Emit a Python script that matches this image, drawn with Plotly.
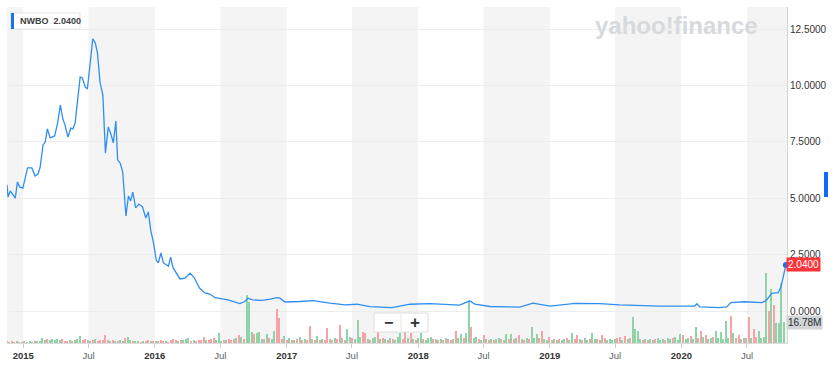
import plotly.graph_objects as go
import pandas as pd

# ---------------- data ----------------
price_dates = [
    "2014-11-17", "2014-11-20", "2014-11-26", "2014-12-10", "2014-12-16", "2014-12-22", "2014-12-31",
    "2015-01-13", "2015-01-25", "2015-02-03", "2015-02-11", "2015-02-17", "2015-02-25", "2015-03-03",
    "2015-03-09", "2015-03-17", "2015-03-29", "2015-04-06", "2015-04-14", "2015-04-21", "2015-04-27",
    "2015-05-05", "2015-05-13", "2015-05-19", "2015-05-25", "2015-05-31", "2015-06-08", "2015-06-14",
    "2015-06-22", "2015-06-28", "2015-07-06", "2015-07-13", "2015-07-20", "2015-07-26", "2015-08-02",
    "2015-08-10", "2015-08-17", "2015-08-25", "2015-09-02", "2015-09-08", "2015-09-15", "2015-09-20",
    "2015-09-27", "2015-10-04", "2015-10-13", "2015-10-20", "2015-10-26", "2015-11-01", "2015-11-09",
    "2015-11-18", "2015-11-28", "2015-12-07", "2015-12-14", "2015-12-21", "2015-12-28", "2016-01-05",
    "2016-01-11", "2016-01-18", "2016-01-25", "2016-02-08", "2016-02-14", "2016-02-21", "2016-03-11",
    "2016-03-25", "2016-04-08", "2016-04-20", "2016-05-04", "2016-05-19", "2016-06-02", "2016-06-16",
    "2016-07-22", "2016-08-24", "2016-09-07", "2016-09-15", "2016-09-29", "2016-10-24", "2016-11-16",
    "2016-12-05", "2016-12-13", "2016-12-27", "2017-02-07", "2017-03-15", "2017-05-01", "2017-06-12",
    "2017-07-15", "2017-08-20", "2017-10-20", "2017-12-09", "2018-02-02", "2018-03-15", "2018-04-26",
    "2018-05-24", "2018-06-07", "2018-07-19", "2018-10-10", "2018-11-15", "2019-01-02", "2019-03-12",
    "2019-05-20", "2019-07-14", "2019-11-02", "2020-02-07", "2020-02-13", "2020-02-21", "2020-04-16",
    "2020-05-06", "2020-05-17", "2020-06-25", "2020-08-11", "2020-08-22", "2020-08-31", "2020-09-08",
    "2020-09-16", "2020-09-25", "2020-10-03", "2020-10-10", "2020-10-17",
]
price_values = [
    5.59, 5.05, 5.32, 5.00, 5.72, 5.50, 5.45,
    6.34, 6.34, 5.98, 6.07, 6.38, 7.36, 7.49,
    8.07, 7.67, 7.76, 8.29, 9.13, 8.51, 8.24,
    7.71, 8.11, 8.07, 8.33, 9.26, 10.37, 10.33,
    9.93, 9.84, 10.99, 12.06, 11.88, 11.44, 10.15,
    9.57, 7.00, 8.16, 7.80, 7.45, 8.42, 6.69,
    6.56, 6.16, 4.21, 5.10, 4.88, 5.27, 4.57,
    4.74, 4.61, 4.12, 4.39, 3.55, 3.06, 2.26,
    2.13, 2.57, 2.13, 1.99, 2.39, 1.91, 1.42,
    1.46, 1.68, 1.46, 1.02, 0.80, 0.75, 0.59,
    0.49, 0.33, 0.42, 0.57, 0.49, 0.47, 0.53,
    0.59, 0.57, 0.40, 0.42, 0.46, 0.35, 0.27,
    0.30, 0.19, 0.15, 0.30, 0.33, 0.30, 0.26,
    0.45, 0.30, 0.20, 0.17, 0.35, 0.22, 0.34,
    0.33, 0.27, 0.22, 0.22, 0.32, 0.18, 0.15,
    0.18, 0.37, 0.41, 0.37, 0.45, 0.62, 0.78,
    0.80, 0.80, 1.05, 1.50, 2.04,
]

volume_week_start = "2014-11-17"
volume_millions = [
    1.6, 0.8, 1.6, 0.8, 1.6, 0.8, 0.8, 1.6, 0.8, 1.6,
    0.8, 1.6, 1.6, 1.6, 4.0, 2.4, 3.2, 2.4, 3.2, 2.4,
    3.2, 2.4, 3.2, 1.6, 1.6, 2.4, 1.6, 2.4, 3.2, 5.6,
    2.4, 3.2, 2.4, 1.6, 2.4, 3.2, 1.6, 2.4, 2.4, 6.4,
    2.4, 1.6, 2.4, 1.6, 1.6, 2.4, 1.6, 4.0, 4.8, 2.4,
    1.6, 1.6, 1.6, 0.8, 1.6, 1.6, 2.4, 1.6, 1.6, 1.6,
    1.6, 2.4, 1.6, 1.6, 0.8, 2.4, 3.2, 2.4, 1.6, 2.4,
    2.4, 3.2, 4.0, 1.6, 2.4, 1.6, 2.4, 2.4, 4.8, 2.4,
    2.4, 3.2, 4.0, 2.4, 8.0, 1.6, 2.4, 2.4, 3.2, 2.4,
    3.2, 4.0, 6.4, 4.8, 3.2, 38.4, 32.8, 8.8, 7.2, 8.0,
    8.8, 3.2, 3.2, 7.2, 4.0, 3.2, 9.6, 27.2, 20.0, 3.2,
    5.6, 2.4, 4.0, 2.4, 2.4, 3.2, 4.8, 2.4, 3.2, 2.4,
    13.6, 3.2, 2.4, 5.6, 2.4, 3.2, 2.4, 12.0, 3.2, 2.4,
    4.0, 3.2, 14.4, 4.0, 2.4, 11.2, 4.8, 4.0, 3.2, 18.4,
    4.8, 8.8, 8.0, 3.2, 2.4, 4.0, 4.8, 12.0, 3.2, 4.0,
    3.2, 2.4, 4.0, 3.2, 2.4, 4.8, 8.0, 3.2, 8.8, 4.0,
    8.0, 3.2, 2.4, 4.0, 8.0, 3.2, 2.4, 4.0, 4.8, 3.2,
    3.2, 2.4, 3.2, 2.4, 4.0, 3.2, 2.4, 3.2, 9.6, 4.0,
    7.2, 4.0, 8.0, 32.8, 12.8, 4.0, 4.8, 3.2, 2.4, 6.4,
    3.2, 2.4, 3.2, 2.4, 3.2, 4.0, 3.2, 2.4, 7.2, 3.2,
    7.2, 3.2, 4.0, 6.4, 3.2, 2.4, 4.0, 3.2, 12.8, 4.0,
    7.2, 4.0, 9.6, 3.2, 2.4, 4.8, 2.4, 3.2, 2.4, 3.2,
    2.4, 3.2, 4.0, 2.4, 8.0, 3.2, 6.4, 3.2, 2.4, 4.0,
    2.4, 3.2, 8.0, 3.2, 3.2, 2.4, 6.4, 4.0, 2.4, 3.2,
    2.4, 3.2, 4.0, 4.8, 2.4, 5.6, 3.2, 4.0, 20.8, 11.2,
    9.6, 3.2, 2.4, 3.2, 2.4, 3.2, 2.4, 3.2, 4.0, 2.4,
    3.2, 2.4, 4.0, 3.2, 4.0, 4.8, 2.4, 7.2, 6.4, 3.2,
    4.0, 5.6, 3.2, 12.8, 4.0, 9.6, 4.8, 6.4, 3.2, 4.0,
    4.8, 9.6, 4.0, 8.8, 3.2, 17.6, 4.0, 21.6, 8.0, 4.0,
    6.4, 3.2, 4.0, 4.0, 20.8, 4.0, 11.2, 4.8, 9.6, 4.0,
    4.8, 56.0, 25.6, 43.2, 30.4, 16.0, 16.0, 48.0, 16.78,
]
# 'g' = up week, 'r' = down week
volume_direction = "".join([
    "rgrrgrgrgg", "grggggrggg", "ggrrrgrggg", "rrgrrgrrrr", "rgrgrggrgg",
    "rggrgrrgrg", "rrrgrrrrgr", "gggrgrrrrg", "rrrgggrgrr", "rgrgrgggrg",
    "ggrgrggrrr", "grgrgrgrgr", "rgrgrgrrgr", "grrgrggrgg", "grrgrggrgr",
    "grgrgggrrg", "rgrggrgggr", "grgrgrrgrg", "grggrggrgr", "grgrggrggr",
    "grgrgrgrgg", "grrggrgrgr", "ggrggrrgrg", "grggrgrrgg", "ggrrgrgrgg",
    "ggrgrggrgg", "grggrgggrg", "grggrrgrgg", "rggggggrgrg"[:10], "rgrgrgrrgg",
    "ggrgrgggg",
])

ticker = "NWBO"
last_price_text = "2.0400"
last_volume_text = "16.78M"
price_ticks = [0, 2.5, 5, 7.5, 10, 12.5]
x_tick_dates = ["2015-01-01", "2015-07-01", "2016-01-01", "2016-07-01", "2017-01-01", "2017-07-01",
                "2018-01-01", "2018-07-01", "2019-01-01", "2019-07-01", "2020-01-01", "2020-07-01"]
x_tick_labels = ["2015", "Jul", "2016", "Jul", "2017", "Jul", "2018", "Jul", "2019", "Jul", "2020", "Jul"]
band_years = [2014, 2015, 2016, 2017, 2018, 2019, 2020]
x_range = ["2014-11-17", "2020-10-20"]

# ---------------- layout helpers ----------------
W, H = 837, 370
L, R, T, B = 7, 787, 7, 343


def px(x):
    return (x - L) / (R - L)


def py(y):
    return (B - y) / (B - T)


vol_dates = pd.date_range(volume_week_start, periods=len(volume_millions), freq="7D")
GREEN, RED = "#8fd4a8", "#f5a3a6"
vol_colors = [GREEN if c == "g" else RED for c in volume_direction]

fig = go.Figure()
fig.add_trace(go.Bar(
    x=vol_dates, y=volume_millions, yaxis="y",
    marker=dict(color=vol_colors, line=dict(width=0)),
    width=3.8 * 86400000, showlegend=False, hoverinfo="skip",
))
fig.add_trace(go.Scatter(
    x=price_dates, y=price_values, yaxis="y2", mode="lines",
    line=dict(color="#2f8ff0", width=1.3), showlegend=False, hoverinfo="skip",
))
fig.add_trace(go.Scatter(
    x=[price_dates[-1]], y=[price_values[-1]], yaxis="y2", mode="markers",
    marker=dict(color="#1a6fe6", size=6), cliponaxis=False, showlegend=False, hoverinfo="skip",
))

shapes = []
for yr in band_years:
    x0 = max(pd.Timestamp(f"{yr}-07-01"), pd.Timestamp(x_range[0]))
    x1 = min(pd.Timestamp(f"{yr + 1}-01-01"), pd.Timestamp(x_range[1]))
    shapes.append(dict(type="rect", xref="x", yref="paper", x0=x0, x1=x1, y0=0, y1=1,
                       fillcolor="#f4f4f4", line=dict(width=0), layer="below"))
# legend box
shapes.append(dict(type="rect", xref="paper", yref="paper", x0=px(11), x1=px(80), y0=py(29), y1=py(13),
                   fillcolor="white", line=dict(color="#e4e4e4", width=1), layer="above"))
shapes.append(dict(type="rect", xref="paper", yref="paper", x0=px(11), x1=px(14), y0=py(29), y1=py(13),
                   fillcolor="#1a73e8", line=dict(width=0), layer="above"))
# zoom buttons
shapes.append(dict(type="rect", xref="paper", yref="paper", x0=px(374), x1=px(428), y0=py(332), y1=py(313),
                   fillcolor="white", line=dict(color="#dedede", width=1), layer="above"))
shapes.append(dict(type="line", xref="paper", yref="paper", x0=px(401), x1=px(401), y0=py(331), y1=py(314),
                   line=dict(color="#e4e4e4", width=1), layer="above"))
# right blue tab
shapes.append(dict(type="rect", xref="paper", yref="paper", x0=px(824), x1=px(828), y0=py(197), y1=py(172),
                   fillcolor="#0f69ff", line=dict(width=0), layer="above"))

annotations = [
    dict(xref="paper", yref="paper", x=px(676), y=py(25), text="yahoo!finance", showarrow=False,
         font=dict(family="Liberation Sans", size=24, color="#d7dadd", weight="bold"),
         xanchor="center", yanchor="middle"),
    dict(xref="paper", yref="paper", x=px(18), y=py(21), text=f"{ticker}  {last_price_text}", showarrow=False,
         font=dict(family="Liberation Sans", size=9, color="#3c4043", weight="bold"),
         xanchor="left", yanchor="middle"),
    dict(xref="paper", yref="paper", x=px(388), y=py(322.5), text="<b>−</b>", showarrow=False,
         font=dict(family="Liberation Sans", size=16, color="#333333"), xanchor="center", yanchor="middle"),
    dict(xref="paper", yref="paper", x=px(414.5), y=py(322.5), text="<b>+</b>", showarrow=False,
         font=dict(family="Liberation Sans", size=17, color="#333333"), xanchor="center", yanchor="middle"),
    dict(xref="paper", yref="y2", x=1, y=price_values[-1], text=last_price_text, showarrow=False,
         xanchor="left", yanchor="middle", bgcolor="#ff333a", borderpad=1, xshift=-1,
         font=dict(family="Liberation Sans", size=10, color="white")),
    dict(xref="paper", yref="y", x=1, y=volume_millions[-1], text=last_volume_text, showarrow=False,
         xanchor="left", yanchor="middle", bgcolor="#d2d4d6", borderpad=1, xshift=-1,
         font=dict(family="Liberation Sans", size=10, color="#232a31")),
]

tick_text = [f"<b>{t}</b>" if t != "Jul" else f"<span style='color:#5b636a'>{t}</span>" for t in x_tick_labels]

vol_top = 0.799 * (B - T)
price_lo = (311 - B) / 22.56
price_hi = (311 - T) / 22.56

fig.update_layout(
    width=W, height=H,
    margin=dict(l=L, r=W - R, t=T, b=H - B),
    paper_bgcolor="white", plot_bgcolor="white",
    font=dict(family="Liberation Sans", color="#333333"),
    shapes=shapes, annotations=annotations,
    bargap=0,
    xaxis=dict(type="date", range=x_range, tickvals=x_tick_dates, ticktext=tick_text,
               tickfont=dict(size=9.5, color="#333333"), showgrid=False, zeroline=False,
               showline=True, linecolor="#dcdcdc", ticks="outside", ticklen=4, tickcolor="#cfcfcf"),
    yaxis=dict(range=[0, vol_top], visible=False, showgrid=False, zeroline=False, fixedrange=True),
    yaxis2=dict(range=[price_lo, price_hi], overlaying="y", side="right", tickvals=price_ticks,
                tickformat=".4f", tickfont=dict(size=10, color="#333333"), showgrid=True,
                gridcolor="#ededed", gridwidth=1, zeroline=False, showline=True, linecolor="#d6d6d6",
                ticks="", anchor="x"),
)

fig.write_html("out.html")
